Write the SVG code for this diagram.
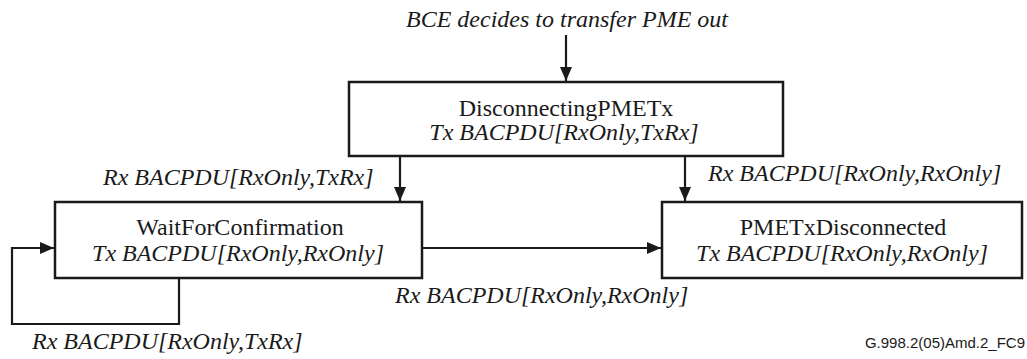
<svg xmlns="http://www.w3.org/2000/svg" width="1027" height="359" viewBox="0 0 1027 359">
<style>
.box{fill:#fff;stroke:#1a1a1a;stroke-width:2.5}
.ln{fill:none;stroke:#1a1a1a;stroke-width:2.2}
.t{font-family:"Liberation Serif","Times New Roman",serif;font-size:24px;fill:#1a1a1a}
.i{font-style:italic}
.c{text-anchor:middle}
.ref{font-family:"Liberation Sans",Arial,sans-serif;font-size:15px;fill:#1a1a1a;text-anchor:end}
</style>
<defs>
<marker id="ah" viewBox="0 0 14 12" refX="14" refY="6" markerWidth="14" markerHeight="12" markerUnits="userSpaceOnUse" orient="auto">
<path d="M0,0 L14,6 L0,12 Z" fill="#1a1a1a"/>
</marker>
</defs>
<rect width="1027" height="359" fill="#fff"/>
<g id="connectors">
<line class="ln" x1="566" y1="35" x2="566" y2="81" marker-end="url(#ah)"/>
<line class="ln" x1="400" y1="156" x2="400" y2="201" marker-end="url(#ah)"/>
<line class="ln" x1="685" y1="156" x2="685" y2="201" marker-end="url(#ah)"/>
<line class="ln" x1="422" y1="248" x2="661" y2="248" marker-end="url(#ah)"/>
<path class="ln" d="M179,278 V324 H12 V248 H54" marker-end="url(#ah)"/>
<text class="t i c" x="567" y="27">BCE decides to transfer PME out</text>
<text class="t i" x="103" y="185">Rx BACPDU[RxOnly,TxRx]</text>
<text class="t i" x="708" y="181">Rx BACPDU[RxOnly,RxOnly]</text>
<text class="t i" x="395" y="303">Rx BACPDU[RxOnly,RxOnly]</text>
<text class="t i" x="32" y="349">Rx BACPDU[RxOnly,TxRx]</text>
</g>
<g id="DisconnectingPMETx">
<rect class="box" x="349" y="82" width="434" height="74"/>
<text class="t c" x="566" y="116">DisconnectingPMETx</text>
<text class="t i c" x="564" y="140">Tx BACPDU[RxOnly,TxRx]</text>
</g>
<g id="WaitForConfirmation">
<rect class="box" x="55" y="202" width="367" height="76"/>
<text class="t c" x="240" y="235">WaitForConfirmation</text>
<text class="t i c" x="238" y="261">Tx BACPDU[RxOnly,RxOnly]</text>
</g>
<g id="PMETxDisconnected">
<rect class="box" x="662" y="202" width="360" height="76"/>
<text class="t c" x="843" y="235">PMETxDisconnected</text>
<text class="t i c" x="842" y="261">Tx BACPDU[RxOnly,RxOnly]</text>
</g>
<text class="ref" x="1025" y="348">G.998.2(05)Amd.2_FC9</text>
</svg>
